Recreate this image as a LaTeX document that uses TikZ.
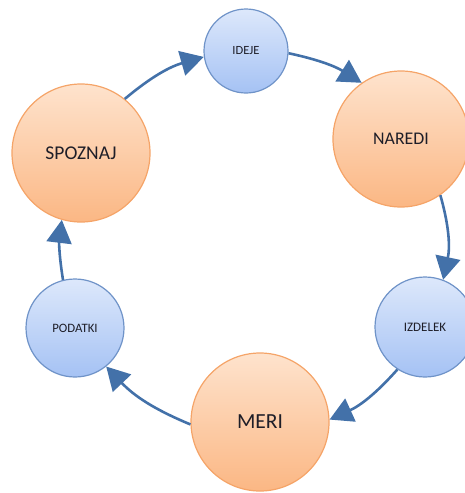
\documentclass[tikz,border=0pt]{standalone}
\usepackage{fontspec}
\setmainfont{Carlito}
\usetikzlibrary{arrows.meta}
\definecolor{ringblue}{HTML}{4371A9}
\definecolor{orangeedge}{HTML}{F5A468}
\definecolor{orangetop}{HTML}{FEE3CD}
\definecolor{orangebot}{HTML}{FBB784}
\definecolor{blueedge}{HTML}{6F93C8}
\definecolor{bluetop}{HTML}{DDE8FB}
\definecolor{bluebot}{HTML}{A5C2F4}
\definecolor{labeltext}{HTML}{1E1E28}
\tikzset{
  bigstage/.style={circle, draw=orangeedge, line width=1.2pt,
    top color=orangetop, bottom color=orangebot, text=labeltext,
    minimum size=#1, inner sep=0pt},
  smallstage/.style={circle, draw=blueedge, line width=1.2pt,
    top color=bluetop, bottom color=bluebot, text=labeltext,
    minimum size=#1, inner sep=0pt},
  cycleflow/.style={draw=ringblue, line width=2.6pt,
    -{Triangle[length=23pt,width=25pt,fill=ringblue]}},
}
\begin{document}
\begin{tikzpicture}[x=1pt,y=-1pt]
\useasboundingbox (0,0) rectangle (465,493);
% stages of the cycle
\node[smallstage=84pt]  (ideje)   at (246,51)  {\fontsize{12.5}{14}\selectfont IDEJE};
\node[bigstage=136pt]   (naredi)  at (401,139) {\fontsize{17.8}{20}\selectfont NAREDI};
\node[smallstage=100pt] (izdelek) at (425,327) {\fontsize{13}{15}\selectfont IZDELEK};
\node[bigstage=138pt]   (meri)    at (260,422) {\fontsize{21.5}{24}\selectfont MERI};
\node[smallstage=98pt]  (podatki) at (75,328)  {\fontsize{12.8}{15}\selectfont PODATKI};
\node[bigstage=138pt]   (spoznaj) at (81,153)  {\fontsize{19.5}{22}\selectfont SPOZNAJ};
% clockwise connectors
\draw[cycleflow] (spoznaj.51)  to[bend left=12] (ideje.188);
\draw[cycleflow] (ideje.-3)    to[bend left=10] (naredi.125);
\draw[cycleflow] (naredi.-55)  to[bend left=14] (izdelek.69);
\draw[cycleflow] (izdelek.237) to[bend left=12] (meri.2);
\draw[cycleflow] (meri.182)    to[bend left=12] (podatki.-51);
\draw[cycleflow] (podatki.104) to[bend left=8]  (spoznaj.-106);
\end{tikzpicture}
\end{document}
